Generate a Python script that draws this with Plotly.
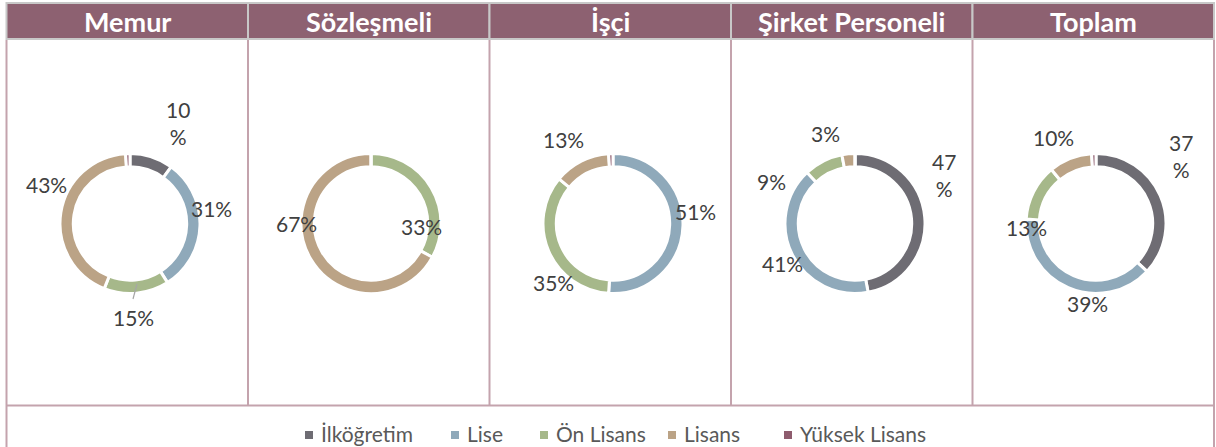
import plotly.graph_objects as go

W, H = 1216, 447

# ---- data ----
categories = ["İlköğretim", "Lise", "Ön Lisans", "Lisans", "Yüksek Lisans"]
panels = ["Memur", "Sözleşmeli", "İşçi", "Şirket Personeli", "Toplam"]
memur = [10, 31, 15, 43, 1]
sozlesmeli = [0, 0, 33, 67, 0]
isci = [0, 51, 35, 13, 1]
sirket = [47, 41, 9, 3, 0]
toplam = [37, 39, 13, 10, 1]
series = [memur, sozlesmeli, isci, sirket, toplam]

# ---- style ----
colors = ["#6E6C73", "#8FA9BA", "#A6B88A", "#BBA386", "#8E5C6E"]
header_bg = "#8D6171"
header_border = "#C8C8C8"
panel_line = "#C4A3AD"
label_color = "#404040"
legend_color = "#595959"
font = "Lato"

centers_x = [130, 371, 613, 855, 1096]
center_y = 223.5
R = 70
col_edges = [6.5, 248, 489.5, 731, 972.5, 1214]
legend_swatch_x = [309, 455, 544, 672, 788]
legend_y = 433

# label placements (pixel offsets from donut centre), per panel per category (None = hidden)
label_pos = [
    [(48, -101, True), (82, -15, False), (3, 94, False), (-84, -39, False), None],
    [None, None, (50, 3, False), (-75, 0, False), None],
    [None, (82, -12, False), (-60, 59, False), (-50, -84, False), None],
    [(89, -49, True), (-73, 40, False), (-83, -42, False), (-30, -90, False), None],
    [(85, -67, True), (-9, 80, False), (-70, 4, False), (-43, -86, False), None],
]

def px(x):
    return x / W

def py(y):
    return (H - y) / H

fig = go.Figure()
for i, vals in enumerate(series):
    cx = centers_x[i]
    fig.add_trace(go.Pie(
        labels=categories, values=vals, sort=False, direction="clockwise", rotation=0,
        hole=0.81, textinfo="none", hoverinfo="label+percent",
        marker=dict(colors=colors, line=dict(color="white", width=3)),
        domain=dict(x=[px(cx - R), px(cx + R)], y=[py(center_y + R), py(center_y - R)]),
        showlegend=False, name=panels[i],
    ))

shapes = []
annotations = []

# header cells
for i in range(5):
    x0, x1 = col_edges[i], col_edges[i + 1]
    shapes.append(dict(type="rect", xref="paper", yref="paper",
                       x0=px(x0), x1=px(x1), y0=py(39), y1=py(3),
                       fillcolor=header_bg, line=dict(color=header_border, width=2), layer="below"))
    annotations.append(dict(text=f"<b>{panels[i]}</b>", x=px((x0 + x1) / 2), y=py(22),
                            xref="paper", yref="paper", showarrow=False,
                            font=dict(family=font, size=27, color="white"),
                            xanchor="center", yanchor="middle"))

# panel lines
for j, x in enumerate(col_edges):
    y_end = H if j in (0, len(col_edges) - 1) else 405.5
    shapes.append(dict(type="line", xref="paper", yref="paper",
                       x0=px(x), x1=px(x), y0=py(40), y1=py(y_end),
                       line=dict(color=panel_line, width=2)))
shapes.append(dict(type="line", xref="paper", yref="paper",
                   x0=px(col_edges[0]), x1=px(col_edges[-1]), y0=py(405.5), y1=py(405.5),
                   line=dict(color=panel_line, width=2)))

# leader line for Memur 15%
shapes.append(dict(type="line", xref="paper", yref="paper",
                   x0=px(137), x1=px(133), y0=py(284), y1=py(299),
                   line=dict(color="#A6A6A6", width=1.2)))

# data labels
for i, vals in enumerate(series):
    for k, v in enumerate(vals):
        pos = label_pos[i][k]
        if pos is None:
            continue
        dx, dy, wrap = pos
        txt = f"{v}<br>%" if wrap else f"{v}%"
        annotations.append(dict(text=txt, x=px(centers_x[i] + dx), y=py(center_y + dy),
                                xref="paper", yref="paper", showarrow=False,
                                font=dict(family=font, size=21, color=label_color),
                                xanchor="center", yanchor="middle"))

# legend (swatch + text per category)
for k, cat in enumerate(categories):
    sx = legend_swatch_x[k]
    shapes.append(dict(type="rect", xref="paper", yref="paper",
                       x0=px(sx - 4), x1=px(sx + 4), y0=py(legend_y + 6), y1=py(legend_y - 2),
                       fillcolor=colors[k], line=dict(width=0)))
    annotations.append(dict(text=cat, x=px(sx + 11), y=py(legend_y),
                            xref="paper", yref="paper", showarrow=False,
                            font=dict(family=font, size=21, color=legend_color),
                            xanchor="left", yanchor="middle", borderpad=0))

fig.update_layout(
    width=W, height=H, margin=dict(l=0, r=0, t=0, b=0),
    paper_bgcolor="white", plot_bgcolor="white",
    shapes=shapes, annotations=annotations, showlegend=False,
)

fig.write_html("out.html", config={"displayModeBar": False},
               post_script="document.body.style.margin='0';document.body.style.overflow='hidden';")
